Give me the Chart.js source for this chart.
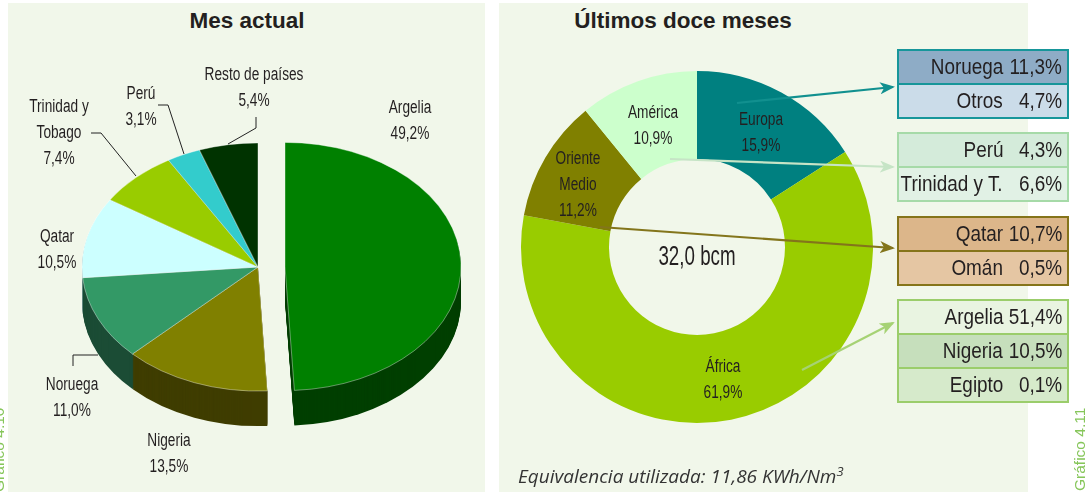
<!DOCTYPE html>
<html lang="es">
<head>
<meta charset="utf-8">
<title>Origen de las importaciones de gas natural</title>
<script src="https://cdn.jsdelivr.net/npm/chart.js@4.4.1/dist/chart.umd.min.js"></script>
<style>
  body { margin: 0; background: #fff; }
  #wrap { position: relative; width: 1090px; height: 492px; overflow: hidden; font-family: "Liberation Sans", Arial, sans-serif; }
  .panel { position: absolute; top: 3px; height: 489px; background: #f1f7ea; }
  .title { position: absolute; top: 8px; font-weight: bold; font-size: 22.5px; color: #231f20; white-space: nowrap; transform: translateX(-50%); }
  canvas { position: absolute; }
  .lbl { position: absolute; font-family: "Liberation Sans", Arial, sans-serif; font-size: 18px; line-height: 26px; color: #231f20; text-align: center; white-space: nowrap; transform: translateX(-50%) scaleX(0.76); }
  #total { font-size: 28px; line-height: 30px; transform: translateX(-50%) scaleX(0.67); }
  .box { position: absolute; left: 897px; width: 168px; border: 2px solid var(--c); }
  .row { position: relative; height: 32px; font-size: 22px; line-height: 32px; color: #231f20; white-space: nowrap; }
  .row + .row { border-top: 2px solid var(--c); }
  .row span { position: absolute; transform-origin: 100% 50%; transform: scaleX(0.86); }
  .row .n { right: 64px; }
  .row .v { right: 5px; }
  .vert { position: absolute; font-size: 15.5px; color: #86c65a; white-space: nowrap; transform-origin: 0 0; transform: rotate(-90deg); }
  #note { position: absolute; left: 518px; top: 462px; font-style: italic; font-size: 19px; color: #333; white-space: nowrap; font-family: "Open Sans", sans-serif; }
  #note sup { font-size: 13px; }
  svg { position: absolute; left: 0; top: 0; }
</style>
</head>
<body>
<div id="wrap">
  <div class="panel" style="left:8px;width:477px"></div>
  <div class="panel" style="left:499px;width:529px"></div>
  <div class="title" style="left:247px">Mes actual</div>
  <div class="title" style="left:683px">Últimos doce meses</div>
  <canvas id="pie" width="480" height="480" style="left:18px;top:27px"></canvas>
  <canvas id="ring" width="400" height="400" style="left:497px;top:47px"></canvas>
  <svg id="lines" width="1090" height="492"></svg>
  <div id="labels"></div>
  <div id="boxes"></div>
  <div class="vert" style="left:-10px;top:492px">Gráfico 4.10</div>
  <div class="vert" style="left:1071px;top:491px">Gráfico 4.11</div>
  <div id="note">Equivalencia utilizada: 11,86 KWh/Nm<sup>3</sup></div>
</div>
<script>
// current month, share by country of origin (%)
const pieCategories = ['Argelia', 'Nigeria', 'Noruega', 'Qatar', 'Trinidad y Tobago', 'Perú', 'Resto de países'];
const pieValues = [49.2, 13.5, 11.0, 10.5, 7.4, 3.1, 5.4];
const pieColors = ['#008000', '#808000', '#339966', '#ccffff', '#99cc00', '#33cccc', '#003300'];
const pieSides = ['#003f00', '#3f3d00', '#1b4c35', '#7fa0a0', '#4d6600', '#1a6666', '#001a00'];
const pieExplode = [27, 0, 0, 0, 0, 0, 0]; // px, pulls Argelia out of the pie

// last twelve months, share by region (%)
const regionCategories = ['Europa', 'África', 'Oriente Medio', 'América'];
const regionValues = [15.9, 61.9, 11.2, 10.9];
const regionColors = ['#008080', '#99cc00', '#808000', '#ccffcc'];
const totalLabel = '32,0 bcm';

// breakdown of each region
const europaNames = ['Noruega', 'Otros'];
const europaValues = [11.3, 4.7];
const americaNames = ['Perú', 'Trinidad y T.'];
const americaValues = [4.3, 6.6];
const orienteNames = ['Qatar', 'Omán'];
const orienteValues = [10.7, 0.5];
const africaNames = ['Argelia', 'Nigeria', 'Egipto'];
const africaValues = [51.4, 10.5, 0.1];

const fmt = v => v.toFixed(1).replace('.', ',') + '%';
const wrapName = { 'Trinidad y Tobago': ['Trinidad y', 'Tobago'], 'Oriente Medio': ['Oriente', 'Medio'] };

// 3d look: squash each slice and stack darker copies underneath
const TILT = 0.705, DEPTH = 35;
const pie3d = {
  id: 'pie3d',
  beforeDatasetsDraw(chart) {
    const ctx = chart.ctx;
    const arcs = chart.getDatasetMeta(0).data;
    const geo = arcs.map((a, i) => {
      const p = a.getProps(['x', 'y', 'startAngle', 'endAngle', 'outerRadius'], true);
      const half = (p.startAngle + p.endAngle) / 2;
      p.dx = Math.cos(half) * pieExplode[i];
      p.dy = Math.sin(half) * pieExplode[i] * TILT;
      return p;
    });
    for (let d = DEPTH; d > 0; d--) {
      geo.forEach((p, i) => {
        const cx = p.x + p.dx, cy = p.y + p.dy + d;
        ctx.beginPath();
        ctx.moveTo(cx, cy);
        ctx.ellipse(cx, cy, p.outerRadius, p.outerRadius * TILT, 0, p.startAngle, p.endAngle);
        ctx.closePath();
        ctx.fillStyle = pieSides[i];
        ctx.fill();
      });
    }
    arcs.forEach((a, i) => {
      const p = geo[i];
      ctx.save();
      ctx.translate(p.x + p.dx, p.y + p.dy);
      ctx.scale(1, TILT);
      ctx.translate(-p.x, -p.y);
      a.draw(ctx);
      ctx.restore();
    });
    return false;
  }
};

const quiet = {
  responsive: false,
  animation: false,
  events: [],
  plugins: { legend: { display: false }, tooltip: { enabled: false } }
};

new Chart(document.getElementById('pie'), {
  type: 'pie',
  data: {
    labels: pieCategories,
    datasets: [{
      data: pieValues,
      backgroundColor: pieColors,
      borderColor: 'rgba(255,255,255,0.45)',
      borderWidth: 1,
      radius: 176
    }]
  },
  options: quiet,
  plugins: [pie3d]
});

new Chart(document.getElementById('ring'), {
  type: 'doughnut',
  data: {
    labels: regionCategories,
    datasets: [{
      data: regionValues,
      backgroundColor: regionColors,
      borderWidth: 0,
      radius: 176
    }]
  },
  options: Object.assign({ cutout: '50%' }, quiet)
});

// label placement (centre of first line)
const pieLabelPos = [[410, 107], [169, 440], [72, 384], [57, 236], [59, 106], [141, 93], [254, 74]];
const regionLabelPos = [[761, 119], [723, 366], [578, 158], [653, 112]];

const labels = document.getElementById('labels');
function addLabel(name, value, pos) {
  const el = document.createElement('div');
  el.className = 'lbl';
  el.style.left = pos[0] + 'px';
  el.style.top = (pos[1] - 13) + 'px';
  const lines = (wrapName[name] || [name]).concat(fmt(value));
  el.innerHTML = lines.join('<br>');
  labels.appendChild(el);
}
pieCategories.forEach((c, i) => addLabel(c, pieValues[i], pieLabelPos[i]));
regionCategories.forEach((c, i) => addLabel(c, regionValues[i], regionLabelPos[i]));
const tot = document.createElement('div');
tot.className = 'lbl';
tot.id = 'total';
tot.style.left = '697px';
tot.style.top = '241px';
tot.textContent = totalLabel;
labels.appendChild(tot);

// breakdown boxes
const groups = [
  { top: 49, c: '#17969a', names: europaNames, values: europaValues, bg: ['#8eacc6', '#cbdce9'] },
  { top: 132, c: '#a6daa8', names: americaNames, values: americaValues, bg: ['#d4ebda', '#e1f1e5'] },
  { top: 216, c: '#85741a', names: orienteNames, values: orienteValues, bg: ['#dcb68a', '#e5c6a3'] },
  { top: 299, c: '#9bcd6b', names: africaNames, values: africaValues, bg: ['#e9f4e1', '#c6dfbc', '#d6eacb'] }
];
const boxes = document.getElementById('boxes');
groups.forEach(g => {
  const box = document.createElement('div');
  box.className = 'box';
  box.style.top = g.top + 'px';
  box.style.setProperty('--c', g.c);
  g.names.forEach((n, i) => {
    const row = document.createElement('div');
    row.className = 'row';
    row.style.background = g.bg[i];
    row.innerHTML = '<span class="n">' + n + '</span><span class="v">' + fmt(g.values[i]) + '</span>';
    box.appendChild(row);
  });
  boxes.appendChild(box);
});

// leader lines and arrows
const svg = document.getElementById('lines');
const leaders = [
  [[256, 117], [256, 128], [228, 144]],
  [[158, 105], [168, 105], [184, 154]],
  [[91, 133], [101, 133], [136, 176]],
  [[73, 366], [73, 355], [98, 355]]
];
const arrows = [
  { from: [737, 103], to: [893, 87], c: '#11908f' },
  { from: [670, 159], to: [893, 167], c: '#c6e4c6' },
  { from: [600, 227], to: [893, 248], c: '#83751b' },
  { from: [802, 370], to: [893, 323], c: '#a6d274' }
];
let defs = '<defs>';
let body = '';
leaders.forEach(l => {
  body += '<polyline points="' + l.map(p => p.join(',')).join(' ') + '" fill="none" stroke="#222" stroke-width="1"/>';
});
arrows.forEach((a, i) => {
  defs += '<marker id="ah' + i + '" viewBox="0 0 15 12" refX="13" refY="6" markerWidth="15" markerHeight="12" markerUnits="userSpaceOnUse" orient="auto">' +
    '<path d="M0,0 L15,6 L0,12 L4,6 z" fill="' + a.c + '"/></marker>';
  body += '<line x1="' + a.from[0] + '" y1="' + a.from[1] + '" x2="' + a.to[0] + '" y2="' + a.to[1] +
    '" stroke="' + a.c + '" stroke-width="2.2" marker-end="url(#ah' + i + ')"/>';
});
svg.innerHTML = defs + '</defs>' + body;
</script>
</body>
</html>
